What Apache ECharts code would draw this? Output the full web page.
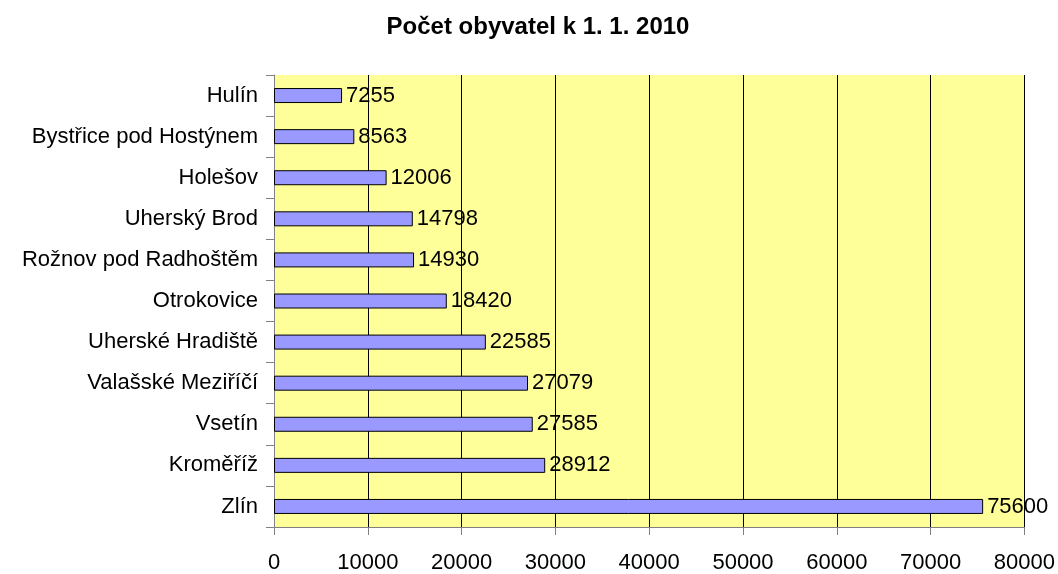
<!DOCTYPE html>
<html>
<head>
<meta charset="utf-8">
<script src="https://cdn.jsdelivr.net/npm/echarts@6/dist/echarts.min.js"></script>
<style>
  html, body { margin: 0; padding: 0; background: #fff; }
  #main { width: 1058px; height: 574px; }
</style>
</head>
<body>
<div id="main"></div>
<script>
// data, bottom to top
const cities = ["Zlín", "Kroměříž", "Vsetín", "Valašské Meziříčí", "Uherské Hradiště",
  "Otrokovice", "Rožnov pod Radhoštěm", "Uherský Brod", "Holešov",
  "Bystřice pod Hostýnem", "Hulín"];
const population = [75600, 28912, 27585, 27079, 22585, 18420, 14930, 14798, 12006, 8563, 7255];

const font = "'Liberation Sans', Arial, sans-serif";

const myChart = echarts.init(document.getElementById("main"));
const option = {
  animation: false,
  title: {
    text: "Počet obyvatel k 1. 1. 2010",
    left: 533,
    textAlign: "center",
    top: 10,
    textStyle: { fontFamily: font, fontSize: 24, fontWeight: "bold", color: "#000" },
  },
  grid: {
    left: 274,
    right: 31,
    top: 75,
    bottom: 46,
    show: true,
    backgroundColor: "#FFFF99",
    borderWidth: 0,
  },
  xAxis: {
    type: "value",
    min: 0,
    max: 80000,
    interval: 10000,
    axisLine: { show: true, lineStyle: { color: "#808080", width: 1 } },
    axisTick: { show: true, length: 8, lineStyle: { color: "#808080" } },
    splitLine: { show: true, lineStyle: { color: "#000", width: 1 } },
    axisLabel: {
      color: "#000", fontFamily: font, fontSize: 22, margin: 25,
      formatter: (v) => String(v),
    },
  },
  yAxis: {
    type: "category",
    data: cities,
    axisLine: { show: true, lineStyle: { color: "#808080", width: 1 } },
    axisTick: { show: true, length: 8, lineStyle: { color: "#808080" } },
    axisLabel: { color: "#000", fontFamily: font, fontSize: 22, margin: 16 },
  },
  series: [
    {
      type: "bar",
      data: population,
      barWidth: 15,
      itemStyle: { color: "#9999FF", borderColor: "#000", borderWidth: 1 },
      label: {
        show: true,
        position: "right",
        distance: 4,
        color: "#000",
        fontFamily: font,
        fontSize: 22,
      },
    },
  ],
};
myChart.setOption(option);
</script>
</body>
</html>
